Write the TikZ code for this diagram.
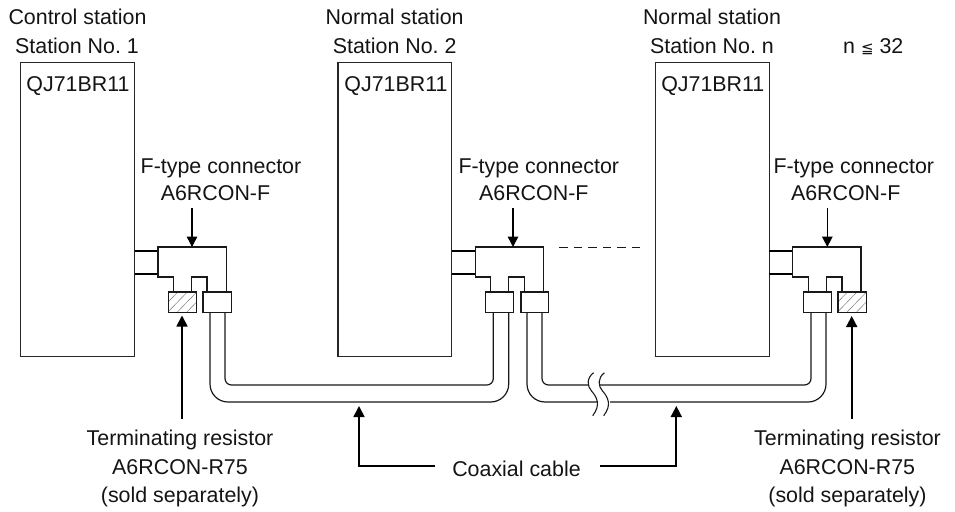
\documentclass[tikz,border=0pt]{standalone}
\usepackage{fontspec}
\setmainfont{Liberation Sans}
\newfontfamily\symfont{DejaVu Sans}
\usetikzlibrary{arrows.meta,calc}
\frenchspacing
\tikzset{
  x=1pt,y=-1pt,
  station/.style={draw=black!85,line width=1.1pt},
  thinline/.style={line width=1.2pt,draw=black!90,line join=miter},
  neckline/.style={line width=1.9pt,draw=black},
  boxline/.style={line width=1.3pt,draw=black!90,fill=white},
  hatch/.style={line width=0.45pt,draw=black!55},
  lbl/.style={font=\fontsize{21.4pt}{25pt}\selectfont,inner sep=0pt,anchor=base,text=black!92},
  callout/.style={line width=1.7pt,draw=black,-{Triangle[length=11pt,width=11pt]}},
  downarrow/.style={line width=1.5pt,draw=black,-{Triangle[length=10.5pt,width=10.5pt]},shorten >=0pt},
  wave/.style={line width=1.1pt,draw=black!90},
}
\newcommand{\hatchbox}[5]{% name x0 y0 x1 y1
  \draw[boxline] (#2,#3) rectangle (#4,#5);
  \begin{scope}
    \clip (#2,#3) rectangle (#4,#5);
    \foreach \k in {0,9.5,...,57}{
      \draw[hatch] ({#2+\k-20},#5) -- ({#2+\k},#3);
    }
  \end{scope}
  \draw[line width=1.3pt,draw=black!90] (#2,#3) rectangle (#4,#5);
  \coordinate (#1) at ({(#2+#4)/2},#5);
}
\begin{document}
\begin{tikzpicture}
\useasboundingbox (0,0) rectangle (955,511);
% stations
\draw[station] (20.7,62.3) rectangle (134.7,356.7);
\draw[station] (338,62.3) rectangle (451.7,356.7);
\draw[station] (655.7,62.3) rectangle (769.3,356.7);
% station text
\node[lbl] (s1a) at (77.5,25) {Control station};
\node[lbl] (s1b) at (77,53.7) {Station No. 1};
\node[lbl] (s1c) at (78,91) {QJ71BR11};
\node[lbl] (s2a) at (394.7,25) {Normal station};
\node[lbl] (s2b) at (394.7,53.7) {Station No. 2};
\node[lbl] (s2c) at (396,91) {QJ71BR11};
\node[lbl] (s3a) at (712,25) {Normal station};
\node[lbl] (s3b) at (712,53.7) {Station No. n};
\node[lbl] (s3c) at (712.8,91) {QJ71BR11};
\node[lbl] (nmax) at (873.3,53.7) {n {\symfont\fontsize{15pt}{15pt}\selectfont ≦} 32};
% F-type labels
\node[lbl] (f1a) at (221,173.2) {F-type connector};
\node[lbl] (f1b) at (215.5,200.5) {A6RCON-F};
\node[lbl] (f2a) at (538.8,173.2) {F-type connector};
\node[lbl] (f2b) at (533.8,200.5) {A6RCON-F};
\node[lbl] (f3a) at (853.8,173.2) {F-type connector};
\node[lbl] (f3b) at (845.7,200.5) {A6RCON-F};
% terminating labels
\node[lbl] (t1a) at (180,445) {Terminating resistor};
\node[lbl] (t1b) at (180,474) {A6RCON-R75};
\node[lbl] (t1c) at (180,502) {(sold separately)};
\node[lbl] (t2a) at (847.5,445) {Terminating resistor};
\node[lbl] (t2b) at (847.3,474) {A6RCON-R75};
\node[lbl] (t2c) at (847.5,502) {(sold separately)};
\node[lbl] (coax) at (516.5,476) {Coaxial cable};
% connector 1
\draw[neckline] (134.7,250.7) -- (158,250.7) (134.7,273.7) -- (158,273.7);
\draw[thinline] (173.3,292) |- (158,277) -- (158,247) coordinate (b1) -| (226.5,292);
\draw[thinline] (191.7,292) |- (207,277) -- (207,292);
% connector 2
\draw[neckline] (451.7,250.7) -- (475.7,250.7) (451.7,273.7) -- (475.7,273.7);
\draw[thinline] (490.7,292) |- (475.7,277) -- (475.7,247) -| (543.7,292);
\draw[thinline] (508.7,292) |- (524.3,277) -- (524.3,292);
% connector 3
\draw[neckline] (769.3,250.7) -- (792.5,250.7) (769.3,273.7) -- (792.5,273.7);
\draw[thinline] (808.3,292) |- (792.5,277) -- (792.5,247) -| (861,292);
\draw[thinline] (826.7,292) |- (842,277) -- (842,292);
% plug boxes
\hatchbox{r1}{168.3}{292}{196.5}{312.6}
\draw[boxline] (203,292) rectangle (231.5,312.6);
\draw[boxline] (485.7,292) rectangle (513.7,312.6);
\draw[boxline] (521,292) rectangle (548.7,312.6);
\draw[boxline] (803.3,292) rectangle (831.3,312.6);
\hatchbox{r2}{838}{292}{866.7}{312.6}
% cables
\draw[thinline,rounded corners=6.5pt] (225,312.6) -- (225,385) -- (493.3,385) -- (493.3,312.6);
\draw[thinline,rounded corners=18pt] (210,312.6) -- (210,402) -- (508.7,402) -- (508.7,312.6);
\draw[thinline,rounded corners=6.5pt] (542,312.6) -- (542,385) -- (588.5,385);
\draw[thinline,rounded corners=18pt] (527,312.6) -- (527,402) -- (598,402);
\draw[thinline,rounded corners=6.5pt] (600,385) -- (811,385) -- (811,312.6);
\draw[thinline,rounded corners=18pt] (610,402) -- (826,402) -- (826,312.6);
% break marks
\draw[wave] (593.6,372.7) .. controls (586.5,378) and (587,386) .. (591.5,391) .. controls (597,397) and (601,405) .. (592.7,415.7);
\draw[wave] (604.4,372.7) .. controls (597.5,378) and (598,386) .. (602.5,391) .. controls (608,397) and (612,405) .. (603.7,415.7);
% dashed continuation
\coordinate (da) at (559.3,247.5);
\coordinate (db) at (640,247.5);
\draw[line width=1.1pt,draw=black!90,dash pattern=on 8.5pt off 6pt] (da) -- (db);
% F-type arrows
\coordinate (fa1) at (192,208);
\coordinate (fb1) at (192,247);
\coordinate (fa2) at (513,208);
\coordinate (fb2) at (513,247);
\coordinate (fa3) at (827.3,208);
\coordinate (fb3) at (827.3,247);
\draw[downarrow] (fa1) -- (fb1);
\draw[downarrow] (fa2) -- (fb2);
\draw[downarrow] (fa3) -- (fb3);
% resistor arrows
\coordinate (ta1) at (182,418.7);
\coordinate (tb1) at (182,315.5);
\coordinate (ta2) at (851.7,418.7);
\coordinate (tb2) at (851.7,316);
\draw[callout] (ta1) -- (tb1);
\draw[callout] (ta2) -- (tb2);
% coaxial arrows
\coordinate (ca1) at (435,466);
\coordinate (cb1) at (359,406);
\coordinate (ca2) at (600,466);
\coordinate (cb2) at (676.3,406);
\draw[callout] (ca1) -| (cb1);
\draw[callout] (ca2) -| (cb2);
\end{tikzpicture}
\end{document}
